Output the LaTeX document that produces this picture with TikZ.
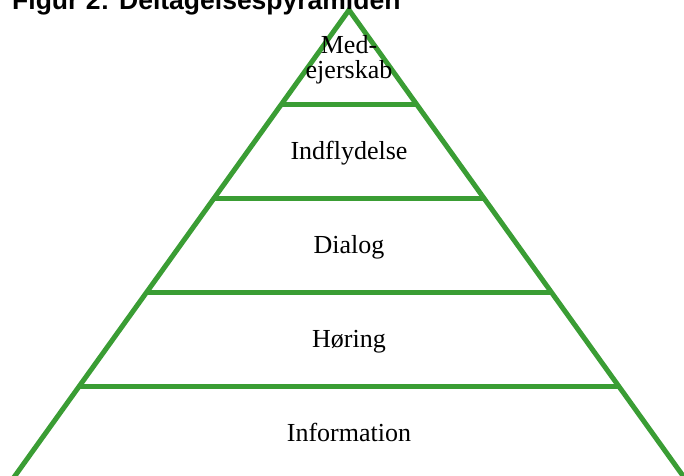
\documentclass[tikz,border=0pt]{standalone}
\usepackage{fontspec}
\setmainfont{Liberation Serif}
\newfontfamily\titlefont{Liberation Sans}
\definecolor{pyrgreen}{RGB}{58,157,52}
\begin{document}
\begin{tikzpicture}[x=1pt,y=-1pt,
  pyrline/.style={draw=pyrgreen,line width=5pt},
  lvl/.style={anchor=base,inner sep=0pt,font=\fontsize{26}{26}\selectfont}]
\useasboundingbox (0,0) rectangle (684,475);
\coordinate (apex) at (349,10);
\coordinate (bl) at (349-0.717*480,490);
\coordinate (br) at (349+0.717*480,490);
\draw[pyrline,line join=miter] (bl) -- (apex) -- (br);
\foreach \y in {104,198.3,292.6,386.9}{
  \pgfmathsetmacro{\dx}{0.717*(\y-10)}
  \draw[pyrline] (349-\dx,\y) -- (349+\dx,\y);
}
\node[anchor=base west,inner sep=0pt,font=\titlefont\bfseries\fontsize{26.5}{26.5}\selectfont] (title) at (12,9) {Figur 2: Deltagelsespyramiden};
\node[lvl] (l1a) at (349,53) {Med-};
\node[lvl] (l1b) at (349,78) {ejerskab};
\node[lvl] (l2) at (349,159) {Indflydelse};
\node[lvl] (l3) at (349,253) {Dialog};
\node[lvl] (l4) at (349,347) {Høring};
\node[lvl] (l5) at (349,441) {Information};
\end{tikzpicture}
\end{document}
